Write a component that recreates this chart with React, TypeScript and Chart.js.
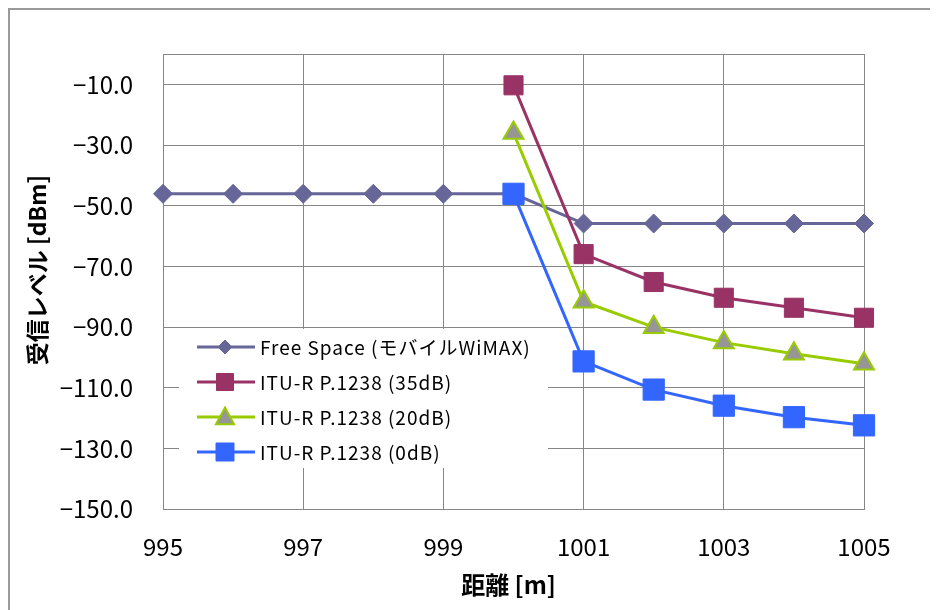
import React, { useEffect, useRef } from "react";
import { Chart, registerables } from "chart.js";

Chart.register(...registerables);

// ---- data ----
const distances = [995, 996, 997, 998, 999, 1000, 1001, 1002, 1003, 1004, 1005];
const freeSpace = [-46.0, -46.0, -46.0, -46.0, -46.0, -46.0, -55.8, -55.8, -55.8, -55.8, -55.8];
const ituDistances = [1000, 1001, 1002, 1003, 1004, 1005];
const itu35 = [-10.2, -65.9, -75.1, -80.3, -83.6, -86.9];
const itu20 = [-25.9, -81.6, -90.0, -95.1, -98.8, -102.1];
const itu0 = [-46.0, -101.3, -110.6, -115.9, -119.7, -122.4];

const seriesNames = [
  "Free Space (モバイルWiMAX)",
  "ITU-R P.1238 (35dB)",
  "ITU-R P.1238 (20dB)",
  "ITU-R P.1238 (0dB)",
];
const xTickValues = [995, 997, 999, 1001, 1003, 1005];
const yTickValues = [-10, -30, -50, -70, -90, -110, -130, -150];
const xTitle = "距離 [m]";
const yTitle = "受信レベル [dBm]";

const FONT = '"Noto Sans CJK JP", "Noto Sans", sans-serif';
const GRID = "#868686";

const styles = [
  { line: "#666699", fill: "#666699", border: "#666699", shape: "diamond", size: 7, bw: 1 },
  { line: "#993366", fill: "#993366", border: "#993366", shape: "square", size: 8.5, bw: 1 },
  { line: "#99CC00", fill: "#969696", border: "#99CC00", shape: "triangle", size: 9.5, bw: 2 },
  { line: "#3366FF", fill: "#3366FF", border: "#3366FF", shape: "square", size: 9, bw: 1 },
];

function drawMarker(ctx: CanvasRenderingContext2D, shape: string, x: number, y: number, s: number) {
  ctx.beginPath();
  if (shape === "diamond") {
    ctx.moveTo(x, y - s);
    ctx.lineTo(x + s, y);
    ctx.lineTo(x, y + s);
    ctx.lineTo(x - s, y);
  } else if (shape === "square") {
    ctx.rect(x - s, y - s, 2 * s, 2 * s);
  } else {
    ctx.moveTo(x, y - s);
    ctx.lineTo(x + s * 0.95, y + s * 0.75);
    ctx.lineTo(x - s * 0.95, y + s * 0.75);
  }
  ctx.closePath();
}

const legendPlugin = {
  id: "insideLegend",
  afterDraw(chart: any) {
    const ctx: any = chart.ctx;
    ctx.save();
    ctx.fillStyle = "#ffffff";
    ctx.fillRect(169, 319, 369, 139);
    ctx.font = `19px ${FONT}`;
    ctx.textBaseline = "middle";
    ctx.textAlign = "left";
    seriesNames.forEach((name, i) => {
      const st = styles[i];
      const y = 337 + i * 35;
      ctx.strokeStyle = st.line;
      ctx.lineWidth = 3;
      ctx.beginPath();
      ctx.moveTo(187, y);
      ctx.lineTo(245, y);
      ctx.stroke();
      drawMarker(ctx, st.shape, 215, y, st.size);
      ctx.fillStyle = st.fill;
      ctx.fill();
      ctx.lineWidth = st.bw;
      ctx.strokeStyle = st.border;
      ctx.stroke();
      ctx.fillStyle = "#000000";
      if ("letterSpacing" in ctx) ctx.letterSpacing = "1px";
      ctx.fillText(name, 250, y + 1);
      if ("letterSpacing" in ctx) ctx.letterSpacing = "0px";
    });

    // axis titles
    ctx.fillStyle = "#000000";
    ctx.textAlign = "center";
    ctx.textBaseline = "middle";
    ctx.font = `bold 24px ${FONT}`;
    ctx.fillText(xTitle, 498.5, 575);
    ctx.save();
    ctx.translate(27.5, 260);
    ctx.rotate(-Math.PI / 2);
    ctx.font = `bold 23px ${FONT}`;
    ctx.fillText(yTitle, 0, 0);
    ctx.restore();
    ctx.restore();
  },
};

const borderPlugin = {
  id: "areaBorder",
  beforeDatasetsDraw(chart: any) {
    const { ctx, chartArea } = chart;
    ctx.save();
    ctx.strokeStyle = GRID;
    ctx.lineWidth = 1;
    ctx.strokeRect(
      Math.round(chartArea.left) + 0.5,
      Math.round(chartArea.top) + 0.5,
      Math.round(chartArea.right - chartArea.left),
      Math.round(chartArea.bottom - chartArea.top)
    );
    ctx.restore();
  },
};

export default function App() {
  const ref = useRef<HTMLCanvasElement | null>(null);

  useEffect(() => {
    if (!ref.current) return;
    Chart.defaults.font.family = FONT;
    const mk = (xs: number[], ys: number[]) => xs.map((x, i) => ({ x, y: ys[i] }));
    const chart = new Chart(ref.current, {
      type: "line",
      data: {
        datasets: [
          {
            label: seriesNames[0],
            data: mk(distances, freeSpace),
            borderColor: "#666699",
            backgroundColor: "#666699",
            borderWidth: 3,
            pointStyle: "rectRot",
            pointRadius: 9.5,
            pointBorderWidth: 1,
            pointBackgroundColor: "#666699",
            pointBorderColor: "#666699",
            order: 4,
            clip: false,
          },
          {
            label: seriesNames[1],
            data: mk(ituDistances, itu35),
            borderColor: "#993366",
            backgroundColor: "#993366",
            borderWidth: 3,
            pointStyle: "rect",
            pointRadius: 13.5,
            pointBorderWidth: 1,
            pointBackgroundColor: "#993366",
            pointBorderColor: "#993366",
            order: 3,
            clip: false,
          },
          {
            label: seriesNames[2],
            data: mk(ituDistances, itu20),
            borderColor: "#99CC00",
            backgroundColor: "#969696",
            borderWidth: 3,
            pointStyle: "triangle",
            pointRadius: 11.5,
            pointBorderWidth: 2,
            pointBackgroundColor: "#969696",
            pointBorderColor: "#99CC00",
            order: 2,
            clip: false,
          },
          {
            label: seriesNames[3],
            data: mk(ituDistances, itu0),
            borderColor: "#3366FF",
            backgroundColor: "#3366FF",
            borderWidth: 3,
            pointStyle: "rect",
            pointRadius: 15,
            pointBorderWidth: 1,
            pointBackgroundColor: "#3366FF",
            pointBorderColor: "#3366FF",
            order: 1,
            clip: false,
          },
        ],
      },
      options: {
        animation: false,
        responsive: false,
        events: [],
        layout: { padding: { left: 0, top: 42, right: 74, bottom: 0 } },
        plugins: {
          legend: { display: false },
          tooltip: { enabled: false },
        },
        elements: { line: { tension: 0 } },
        scales: {
          x: {
            type: "linear",
            min: 995,
            max: 1005,
            afterBuildTicks: (scale: any) => {
              scale.ticks = xTickValues.map((v) => ({ value: v }));
            },
            afterFit: (scale: any) => {
              scale.height = 101;
            },
            grid: { color: GRID, lineWidth: 1, drawTicks: false },
            border: { color: GRID, width: 1 },
            ticks: {
              padding: 23,
              color: "#000",
              font: { size: 24, family: FONT },
              maxRotation: 0,
              callback: (v: any) => String(v),
            },
            title: { display: false, text: xTitle },
          },
          y: {
            type: "linear",
            min: -150,
            max: 0,
            afterBuildTicks: (scale: any) => {
              scale.ticks = yTickValues.map((v) => ({ value: v }));
            },
            afterFit: (scale: any) => {
              scale.width = 153;
            },
            grid: { color: GRID, lineWidth: 1, drawTicks: false },
            border: { color: GRID, width: 1 },
            ticks: {
              padding: 30,
              color: "#000",
              font: { size: 24, family: FONT },
              callback: (v: any) => (v < 0 ? "−" : "") + Math.abs(Number(v)).toFixed(1),
            },
            title: { display: false, text: yTitle },
          },
        },
      },
      plugins: [borderPlugin, legendPlugin],
    });
    return () => chart.destroy();
  }, []);

  return (
    <div
      style={{
        borderTop: "2px solid #9a9a9a",
        borderLeft: "2px solid #9a9a9a",
        width: 928,
        height: 600,
        overflow: "hidden",
      }}
    >
      <canvas ref={ref} width={928} height={600} style={{ display: "block", width: 928, height: 600 }} />
    </div>
  );
}
